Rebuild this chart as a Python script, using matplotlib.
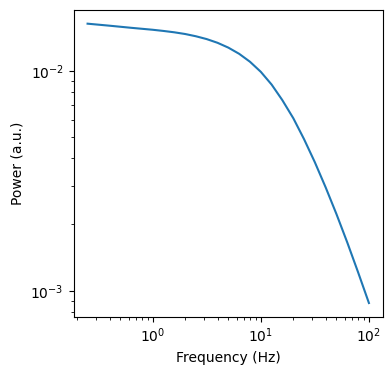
import matplotlib
matplotlib.use("Agg")
import matplotlib.pyplot as plt

freq_hz = [0.25, 0.398, 0.631, 1.0, 1.26, 1.58, 2.0, 2.51, 3.16, 3.98, 5.01, 6.31,
           7.94, 10.0, 12.6, 15.8, 20.0, 25.1, 31.6, 39.8, 50.1, 63.1, 79.4, 100.0]
power_au = [0.01637, 0.01603, 0.01568, 0.01536, 0.01517, 0.01496, 0.01469, 0.01435,
            0.01393, 0.01340, 0.01274, 0.01194, 0.01099, 0.00989, 0.00865, 0.00736,
            0.00608, 0.00489, 0.00384, 0.00295, 0.00223, 0.001656, 0.001213, 0.000879]

fig = plt.figure(figsize=(3.92, 3.75), dpi=100)
ax = fig.add_axes([0.1875, 0.1547, 0.7895, 0.8194])
ax.loglog(freq_hz, power_au, color="#1f77b4")
ax.set_xlabel("Frequency (Hz)")
ax.set_ylabel("Power (a.u.)")
fig.savefig("out.png", dpi=100)
